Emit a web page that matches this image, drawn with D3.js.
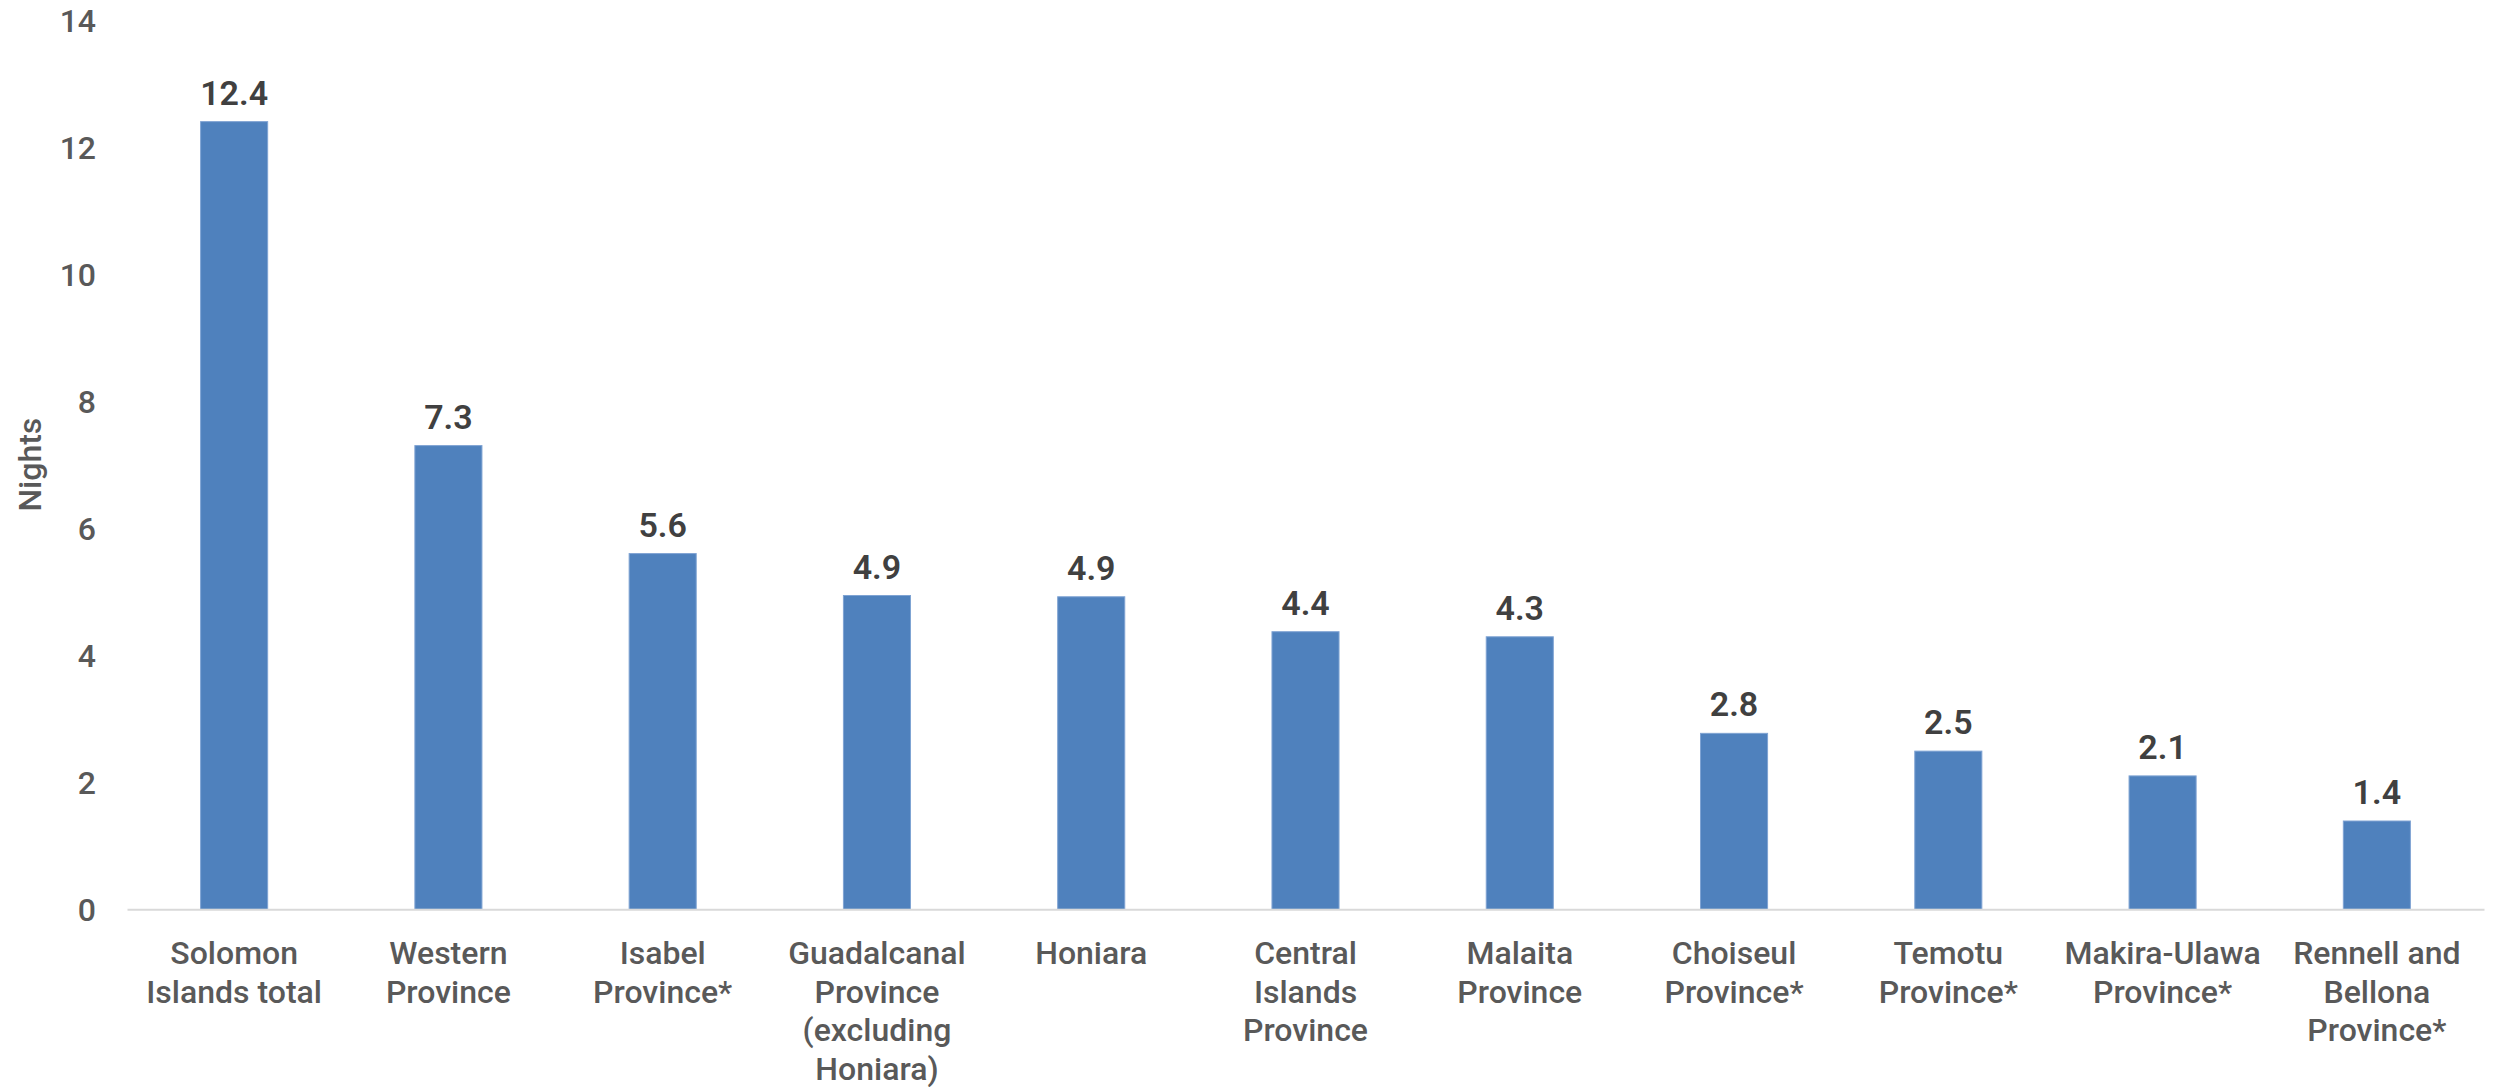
<!DOCTYPE html>
<html>
<head>
<meta charset="utf-8">
<script src="https://cdn.jsdelivr.net/npm/d3@7"></script>
<style>
  html, body { margin: 0; padding: 0; background: #ffffff; }
  svg { display: block; }
</style>
</head>
<body>
<svg id="chart" width="2496" height="1087"></svg>
<script>
const categories = [
  "Solomon\nIslands total",
  "Western\nProvince",
  "Isabel\nProvince*",
  "Guadalcanal\nProvince\n(excluding\nHoniara)",
  "Honiara",
  "Central\nIslands\nProvince",
  "Malaita\nProvince",
  "Choiseul\nProvince*",
  "Temotu\nProvince*",
  "Makira-Ulawa\nProvince*",
  "Rennell and\nBellona\nProvince*"
];
const nights = [12.4, 7.3, 5.6, 4.94, 4.92, 4.37, 4.29, 2.77, 2.49, 2.1, 1.39];
const yTicks = [0, 2, 4, 6, 8, 10, 12, 14];
const yTitle = "Nights";

const svg = d3.select("#chart");
const margin = { left: 127, right: 2496 - 2484, top: 20, bottom: 1087 - 909.3 };
const W = 2496, H = 1087;

const x = d3.scaleBand()
  .domain(categories)
  .range([margin.left, W - margin.right])
  .paddingInner(0.687)
  .paddingOuter(0.3435);

const y = d3.scaleLinear()
  .domain([0, 14])
  .range([H - margin.bottom, margin.top]);

const font = "Roboto, 'Liberation Sans', Arial, sans-serif";

// Y axis tick labels
const yAxis = d3.axisLeft(y).tickValues(yTicks).tickSize(0).tickPadding(0).tickFormat(d3.format("d"));
const gy = svg.append("g")
  .attr("transform", `translate(96,0)`)
  .call(yAxis);
gy.select(".domain").remove();
gy.selectAll("text")
  .attr("font-family", font)
  .attr("font-size", 32)
  .attr("font-weight", 500)
  .attr("fill", "#595959")
  .attr("dy", "0.36em");

// Y title
svg.append("text")
  .attr("transform", `translate(29,${(y(0) + y(14)) / 2}) rotate(-90)`)
  .attr("text-anchor", "middle")
  .attr("dy", "0.36em")
  .attr("font-family", font)
  .attr("font-size", 32)
  .attr("font-weight", 500)
  .attr("fill", "#595959")
  .text(yTitle);

// Bars
svg.append("g").selectAll("rect")
  .data(nights)
  .join("rect")
  .attr("x", (d, i) => x(categories[i]))
  .attr("width", x.bandwidth())
  .attr("y", d => y(d))
  .attr("height", d => y(0) - y(d))
  .attr("fill", "#4F81BD")
  .attr("stroke", "#7FA3D3")
  .attr("stroke-width", 1);

// X axis line + labels
const xAxis = d3.axisBottom(x).tickSize(0).tickPadding(0).tickFormat("");
const gx = svg.append("g")
  .attr("transform", `translate(0,${y(0)})`)
  .call(xAxis);
gx.select(".domain").attr("stroke", "#D9D9D9").attr("stroke-width", 2);

gx.selectAll(".tick").each(function(d) {
  const t = d3.select(this).append("text")
    .attr("text-anchor", "middle")
    .attr("font-family", font)
    .attr("font-size", 32)
    .attr("font-weight", 500)
    .attr("fill", "#595959")
    .attr("y", 55);
  d.split("\n").forEach((line, i) => {
    t.append("tspan").attr("x", 0).attr("dy", i === 0 ? 0 : 38.5).text(line);
  });
});

// Data labels
svg.append("g").selectAll("text")
  .data(nights)
  .join("text")
  .attr("x", (d, i) => x(categories[i]) + x.bandwidth() / 2)
  .attr("y", d => y(d) - 17)
  .attr("text-anchor", "middle")
  .attr("font-family", font)
  .attr("font-size", 34)
  .attr("font-weight", 600)
  .attr("fill", "#404040")
  .text(d => d3.format(".1f")(d));
</script>
</body>
</html>
